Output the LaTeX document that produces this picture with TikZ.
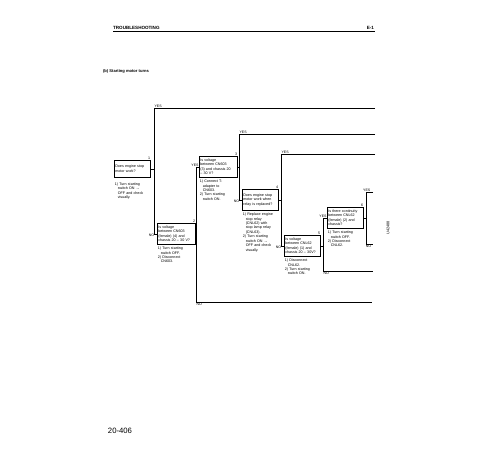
\documentclass[tikz,border=0pt]{standalone}
\usepackage{fontspec}
\setmainfont{Liberation Sans}
\usepackage{tikz}
\usetikzlibrary{
		calc,
		positioning
	}
\tikzset{
		>=stealth,
		qbox/.style={draw, line width=0.7pt, text width=1.7cm, minimum height=1.05cm,
			inner sep=1.5pt, align=left, anchor=north west, font=\fontsize{5.2}{6.4}\selectfont},
		note/.style={text width=2cm, inner sep=0pt, align=left, font=\fontsize{5.2}{6.3}\selectfont},
		num/.style={inner sep=0.6pt, anchor=south east, font=\fontsize{5.2}{6}\selectfont},
		ans/.style={inner sep=0.6pt, font=\fontsize{5}{6}\selectfont},
		flow/.style={line width=0.7pt}
	}
\newcommand{\ind}{\hspace*{0.8em}}

\begin{document}
\begin{tikzpicture}[x=0.05cm, y=-0.05cm]
    \useasboundingbox (0,0) rectangle (500,450);

    % page header
    \node[inner sep=0pt, anchor=base west, font=\bfseries\fontsize{6.5}{7}\selectfont] (title) at (113,29) {TROUBLESHOOTING};
    \node[inner sep=0pt, anchor=base east, font=\bfseries\fontsize{6.5}{7}\selectfont] (page) at (374,29) {E-1};
    \draw[line width=0.7pt] (113,31) -- (375,31);
    \node[inner sep=0pt, anchor=base west, font=\bfseries\fontsize{5.8}{7}\selectfont] (sub) at (103,72) {(b) Starting motor turns};

    % the check boxes
    \node[qbox, minimum height=0.85cm] (b1) at (114,160) {Does engine stop\\motor work?};
    \node[qbox, text width=1.8cm] (b2) at (157,223) {Is voltage\\between CN603\\(female) (4) and\\chassis 20 -- 30 V?};
    \node[qbox, text width=1.8cm] (b3) at (199,156) {Is voltage\\between CN603\\(3) and chassis 20\\-- 30 V?};
    \node[qbox] (b4) at (242,189) {Does engine stop\\motor work when\\relay is replaced?};
    \node[qbox] (b5) at (284,235) {Is voltage\\between CNL62\\(female) (1) and\\chassis 20 -- 30V?};
    \node[qbox] (b6) at (327,207) {Is there continuity\\between CNL62\\(female) (2) and\\chassis?};

    % the step numbers
    \node[num] at (b1.north east) {1};
    \node[num] at (b2.north east) {2};
    \node[num] at (b3.north east) {3};
    \node[num] at (b4.north east) {4};
    \node[num] at (b5.north east) {5};
    \node[num] at (b6.north east) {6};

    % the notes under the boxes
    \node[note, below=0.25cm of b1.south west, anchor=north west, xshift=1pt] (n1) {1) Turn starting\\\ind switch ON →\\\ind OFF and check\\\ind visually.};
    \node[note, below=0.12cm of b2.south west, anchor=north west, xshift=1pt] (n2) {1) Turn starting\\\ind switch OFF.\\2) Disconnect\\\ind CN603.};
    \node[note, below=0.12cm of b3.south west, anchor=north west, xshift=1pt] (n3) {1) Connect T-\\\ind adapter to\\\ind CN603.\\2) Turn starting\\\ind switch ON.};
    \node[note, below=0.12cm of b4.south west, anchor=north west, xshift=1pt] (n4) {1) Replace engine\\\ind stop relay\\\ind (CNL62) with\\\ind stop lamp relay\\\ind (CNL63).\\2) Turn starting\\\ind switch ON →\\\ind OFF and check\\\ind visually.};
    \node[note, below=0.12cm of b5.south west, anchor=north west, xshift=1pt] (n5) {1) Disconnect\\\ind CNL62.\\2) Turn starting\\\ind switch ON.};
    \node[note, below=0.12cm of b6.south west, anchor=north west, xshift=1pt] (n6) {1) Turn starting\\\ind switch OFF.\\2) Disconnect\\\ind CNL62.};

    % corners and line ends of the branches
    \coordinate (k1) at (154,108);  \coordinate (e1) at (375,108);
    \coordinate (k2) at (196,302);  \coordinate (e2) at (372,302);
    \coordinate (k3) at (239,134);  \coordinate (e3) at (375,134);
    \coordinate (k4) at (281,154);  \coordinate (e4) at (375,154);
    \coordinate (k5) at (323,271);  \coordinate (e5) at (373,271);
    \coordinate (k6) at (366,192);  \coordinate (e6) at (373,192);
    \coordinate (m6) at (366,244);  \coordinate (f6) at (373,244);

    % draw the branches
    \draw[flow] (b1.east) -- (b1.east -| k1);
    \draw[flow] (e1) -- (k1) -- (k1 |- b2.west) -- (b2.west);
    \draw[flow] (b2.east) -- (b2.east -| k2);
    \draw[flow] (b3.west) -- (b3.west -| k2) -- (k2) -- (e2);
    \draw[flow] (b3.east) -- (b3.east -| k3);
    \draw[flow] (e3) -- (k3) -- (k3 |- b4.west) -- (b4.west);
    \draw[flow] (b4.east) -- (b4.east -| k4);
    \draw[flow] (e4) -- (k4) -- (k4 |- b5.west) -- (b5.west);
    \draw[flow] (b5.east) -- (b5.east -| k5);
    \draw[flow] (b6.west) -- (b6.west -| k5) -- (k5) -- (e5);
    \draw[flow] (b6.east) -- (b6.east -| k6);
    \draw[flow] (e6) -- (k6) -- (m6) -- (f6);

    % the answers
    \node[ans, anchor=south west] at (k1) {YES};
    \node[ans, anchor=north east, xshift=1pt] at (k1 |- b2.west) {NO};
    \node[ans, anchor=south east] at (b3.west) {YES};
    \node[ans, anchor=north west] at (k2) {NO};
    \node[ans, anchor=south west] at (k3) {YES};
    \node[ans, anchor=north east, xshift=1pt] at (k3 |- b4.west) {NO};
    \node[ans, anchor=south west] at (k4) {YES};
    \node[ans, anchor=north east, xshift=1pt] at (k4 |- b5.west) {NO};
    \node[ans, anchor=south east] at (b6.west) {YES};
    \node[ans, anchor=north west] at (k5) {NO};
    \node[ans, anchor=south, xshift=1pt] at (k6) {YES};
    \node[ans, anchor=north west, xshift=-1pt] at (m6) {NO};

    % side code and page number
    \node[rotate=90, font=\fontsize{5.5}{6}\selectfont] (code) at (388,228) {U42488};
    \node[font=\fontsize{11}{13}\selectfont] (pg) at (120,431) {20-406};

\end{tikzpicture}
\end{document}
